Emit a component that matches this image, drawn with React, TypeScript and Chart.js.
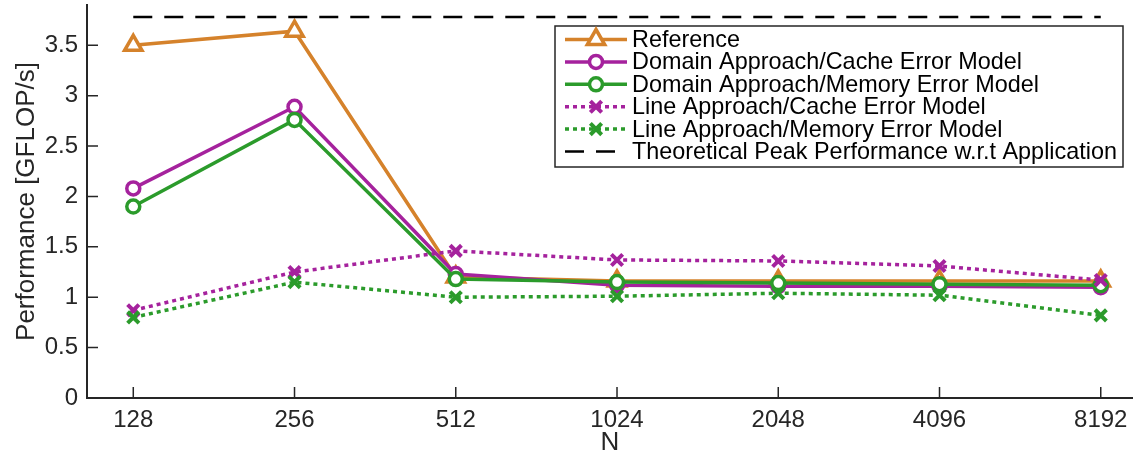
import React, { useEffect, useRef } from 'react';
import { Chart, registerables } from 'chart.js';

Chart.register(...registerables);

const nLabels = ['128', '256', '512', '1024', '2048', '4096', '8192'];
const referenceValues = [3.5, 3.64, 1.2, 1.16, 1.16, 1.16, 1.16];
const domainCacheValues = [2.08, 2.89, 1.23, 1.12, 1.11, 1.11, 1.1];
const domainMemoryValues = [1.9, 2.76, 1.18, 1.15, 1.14, 1.13, 1.12];
const lineCacheValues = [0.87, 1.25, 1.46, 1.37, 1.36, 1.31, 1.17];
const lineMemoryValues = [0.8, 1.15, 1.0, 1.01, 1.04, 1.02, 0.82];
const peakValue = 3.78;
const yTickValues = [0, 0.5, 1, 1.5, 2, 2.5, 3, 3.5];
const seriesNames = [
  'Reference',
  'Domain Approach/Cache Error Model',
  'Domain Approach/Memory Error Model',
  'Line Approach/Cache Error Model',
  'Line Approach/Memory Error Model',
  'Theoretical Peak Performance w.r.t Application',
];

const ORANGE = '#D5822B';
const PURPLE = '#A5229D';
const GREEN = '#2B9B2B';
const AXIS = '#262626';
const FONT = "'Liberation Sans', Arial, Helvetica, sans-serif";

const toPoints = (vals: number[]) => vals.map((v, i) => ({ x: i, y: v }));

function drawMarker(ctx: CanvasRenderingContext2D, style: string, x: number, y: number, r: number) {
  ctx.beginPath();
  if (style === 'triangle') {
    let rad = 0;
    ctx.moveTo(x + Math.sin(rad) * r, y - Math.cos(rad) * r);
    rad += (2 * Math.PI) / 3;
    ctx.lineTo(x + Math.sin(rad) * r, y - Math.cos(rad) * r);
    rad += (2 * Math.PI) / 3;
    ctx.lineTo(x + Math.sin(rad) * r, y - Math.cos(rad) * r);
    ctx.closePath();
    ctx.fill();
    ctx.stroke();
  } else if (style === 'circle') {
    ctx.arc(x, y, r, 0, Math.PI * 2);
    ctx.fill();
    ctx.stroke();
  } else if (style === 'crossRot') {
    const d = r * Math.cos(Math.PI / 4);
    ctx.moveTo(x - d, y - d);
    ctx.lineTo(x + d, y + d);
    ctx.moveTo(x - d, y + d);
    ctx.lineTo(x + d, y - d);
    ctx.stroke();
  }
}

const inwardTicks = {
  id: 'inwardTicks',
  afterDatasetsDraw(chart: any) {
    const { ctx, chartArea, scales } = chart;
    ctx.save();
    ctx.strokeStyle = AXIS;
    ctx.lineWidth = 1.5;
    ctx.beginPath();
    scales.x.ticks.forEach((t: any) => {
      const px = scales.x.getPixelForValue(t.value);
      ctx.moveTo(px, chartArea.bottom);
      ctx.lineTo(px, chartArea.bottom - 11);
    });
    scales.y.ticks.forEach((t: any) => {
      const py = scales.y.getPixelForValue(t.value);
      ctx.moveTo(chartArea.left, py);
      ctx.lineTo(chartArea.left + 11, py);
    });
    ctx.stroke();
    ctx.restore();
  },
};

const boxLegend = {
  id: 'boxLegend',
  afterDraw(chart: any) {
    const { ctx } = chart;
    const left = 555, top = 26, right = 1123, bottom = 167;
    const rowStart = 39.5, rowGap = 22.4;
    const lineX0 = 565, lineX1 = 627, textX = 632;
    ctx.save();
    ctx.fillStyle = '#ffffff';
    ctx.fillRect(left, top, right - left, bottom - top);
    ctx.strokeStyle = AXIS;
    ctx.lineWidth = 1.5;
    ctx.strokeRect(left, top, right - left, bottom - top);
    chart.data.datasets.forEach((ds: any, i: number) => {
      const y = rowStart + i * rowGap;
      ctx.save();
      ctx.strokeStyle = ds.borderColor;
      ctx.lineWidth = ds.borderWidth;
      ctx.setLineDash(ds.borderDash || []);
      ctx.beginPath();
      ctx.moveTo(lineX0, y);
      ctx.lineTo(lineX1, y);
      ctx.stroke();
      ctx.setLineDash([]);
      if (ds.pointRadius > 0) {
        ctx.fillStyle = ds.pointBackgroundColor;
        ctx.strokeStyle = ds.pointBorderColor;
        ctx.lineWidth = ds.pointBorderWidth;
        drawMarker(ctx, ds.pointStyle, (lineX0 + lineX1) / 2, y, ds.pointRadius);
      }
      ctx.restore();
      ctx.fillStyle = '#000000';
      ctx.font = `23.4px ${FONT}`;
      ctx.textBaseline = 'middle';
      ctx.textAlign = 'left';
      ctx.fillText(ds.label, textX, y + 1);
    });
    ctx.restore();
  },
};

function makeSeries(label: string, vals: number[], color: string, style: string, radius: number, dotted: boolean, order: number) {
  return {
    label,
    data: toPoints(vals),
    borderColor: color,
    backgroundColor: color,
    borderWidth: 3.5,
    borderDash: dotted ? [4, 4] : [],
    pointStyle: style,
    pointRadius: radius,
    pointHoverRadius: radius,
    pointBorderWidth: style === 'crossRot' ? 4 : 3.5,
    pointBorderColor: color,
    pointBackgroundColor: '#ffffff',
    tension: 0,
    fill: false,
    order,
  };
}

export default function App() {
  const canvasRef = useRef<HTMLCanvasElement | null>(null);

  useEffect(() => {
    if (!canvasRef.current) return;
    const datasets: any[] = [
      makeSeries(seriesNames[0], referenceValues, ORANGE, 'triangle', 10, false, 5),
      makeSeries(seriesNames[1], domainCacheValues, PURPLE, 'circle', 6.5, false, 4),
      makeSeries(seriesNames[2], domainMemoryValues, GREEN, 'circle', 6.5, false, 3),
      makeSeries(seriesNames[3], lineCacheValues, PURPLE, 'crossRot', 8, true, 2),
      makeSeries(seriesNames[4], lineMemoryValues, GREEN, 'crossRot', 8, true, 1),
      {
        label: seriesNames[5],
        data: toPoints(nLabels.map(() => peakValue)),
        borderColor: '#000000',
        backgroundColor: '#000000',
        borderWidth: 2.5,
        borderDash: [19, 12],
        pointRadius: 0,
        pointHoverRadius: 0,
        fill: false,
        order: 0,
      },
    ];

    const chart = new Chart(canvasRef.current, {
      type: 'line',
      data: { datasets },
      plugins: [inwardTicks, boxLegend],
      options: {
        animation: false,
        responsive: false,
        devicePixelRatio: 1,
        layout: { autoPadding: false, padding: { top: 5, right: 0, left: 0, bottom: 0 } },
        plugins: { legend: { display: false }, tooltip: { enabled: false } },
        scales: {
          x: {
            type: 'linear',
            min: -0.287,
            max: 6.2,
            afterBuildTicks: (scale: any) => {
              scale.ticks = nLabels.map((_, i) => ({ value: i }));
            },
            afterFit: (scale: any) => {
              scale.height = 57;
              scale.paddingLeft = 0;
              scale.paddingRight = 0;
            },
            ticks: {
              autoSkip: false,
              maxRotation: 0,
              padding: 8,
              color: AXIS,
              font: { size: 24, family: FONT },
              callback: (v: any) => nLabels[Math.round(v)] ?? '',
            },
            grid: { display: false, drawTicks: false },
            border: { display: true, color: AXIS, width: 2 },
            title: {
              display: true,
              text: 'N',
              color: AXIS,
              font: { size: 26, family: FONT, lineHeight: 1 },
              padding: { top: 0, bottom: -1 },
            },
          },
          y: {
            type: 'linear',
            min: 0,
            max: 3.9,
            afterBuildTicks: (scale: any) => {
              scale.ticks = yTickValues.map((v) => ({ value: v }));
            },
            afterFit: (scale: any) => {
              scale.width = 87;
              scale.paddingTop = 0;
              scale.paddingBottom = 0;
            },
            ticks: {
              padding: 9,
              color: AXIS,
              font: { size: 24, family: FONT },
              callback: (v: any) => String(v),
            },
            grid: { display: false, drawTicks: false },
            border: { display: true, color: AXIS, width: 2 },
            title: {
              display: true,
              text: 'Performance [GFLOP/s]',
              color: AXIS,
              font: { size: 26, family: FONT },
              padding: { top: 11, bottom: 0 },
            },
          },
        },
      } as any,
    });
    return () => chart.destroy();
  }, []);

  return (
    <div style={{ position: 'fixed', left: 0, top: 0, width: 1133, height: 455, background: '#fff' }}>
      <canvas ref={canvasRef} width={1133} height={455} style={{ display: 'block' }} />
    </div>
  );
}
